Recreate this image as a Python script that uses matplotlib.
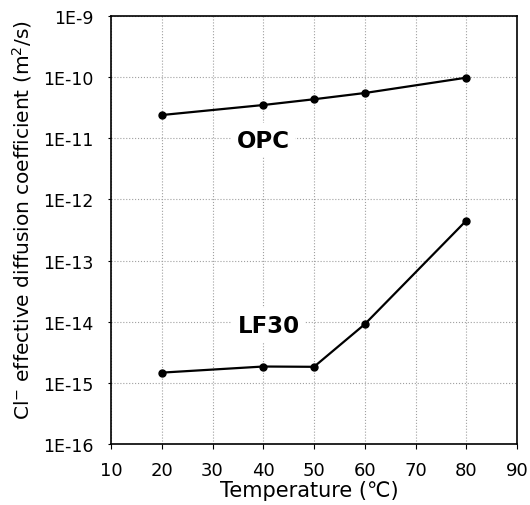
import matplotlib.pyplot as plt
from matplotlib.ticker import FixedLocator, NullLocator

plt.rcParams['font.family'] = ['DejaVu Sans']
plt.rcParams['mathtext.fontset'] = 'dejavusans'

temps = [20, 40, 50, 60, 80]
opc = [2.4e-11, 3.5e-11, 4.35e-11, 5.5e-11, 9.8e-11]
lf30 = [1.47e-15, 1.85e-15, 1.83e-15, 9.1e-15, 4.5e-13]

yticks = [1e-16, 1e-15, 1e-14, 1e-13, 1e-12, 1e-11, 1e-10, 1e-9]
ylabels = ['1E-16', '1E-15', '1E-14', '1E-13', '1E-12', '1E-11', '1E-10', '1E-9']
xticks = [10, 20, 30, 40, 50, 60, 70, 80, 90]

fig = plt.figure(figsize=(5.30, 5.06), dpi=100)
ax = fig.add_axes([111/530, 61/506, 406/530, 428/506])

ax.plot(temps, opc, 'k-o', lw=1.6, ms=5)
ax.plot(temps, lf30, 'k-o', lw=1.6, ms=5)

ax.set_yscale('log')
ax.set_ylim(1e-16, 1e-9)
ax.set_xlim(10, 90)
ax.yaxis.set_major_locator(FixedLocator(yticks))
ax.yaxis.set_minor_locator(NullLocator())
ax.set_yticklabels(ylabels)
ax.set_xticks(xticks)

ax.grid(True, color='#a0a0a0', linestyle=':', linewidth=0.8)
ax.tick_params(axis='y', labelsize=12.5, direction='out', length=2.2, pad=10.5)
ax.tick_params(axis='x', labelsize=13, direction='out', length=3.6, pad=8.5)
for s in ax.spines.values():
    s.set_linewidth(1.2)

# series labels sit on a white box that hides the grid behind them
box = dict(facecolor='white', edgecolor='none', pad=4)
ax.text(40, 7.3e-12, 'OPC', fontsize=16.5, fontweight='bold', ha='center', va='baseline', bbox=box)
ax.text(41.1, 6.8e-15, 'LF30', fontsize=16.5, fontweight='bold', ha='center', va='baseline', bbox=box)

ax.set_xlabel('Temperature (\u2103)', fontsize=15, va='top')
ax.xaxis.set_label_coords(0.488, -0.084)
ax.set_ylabel('Cl$^{-}$ effective diffusion coefficient (m$^{2}$/s)', fontsize=14.5)
ax.yaxis.set_label_coords(-0.19, 0.526)

fig.savefig('out.png', dpi=100)
